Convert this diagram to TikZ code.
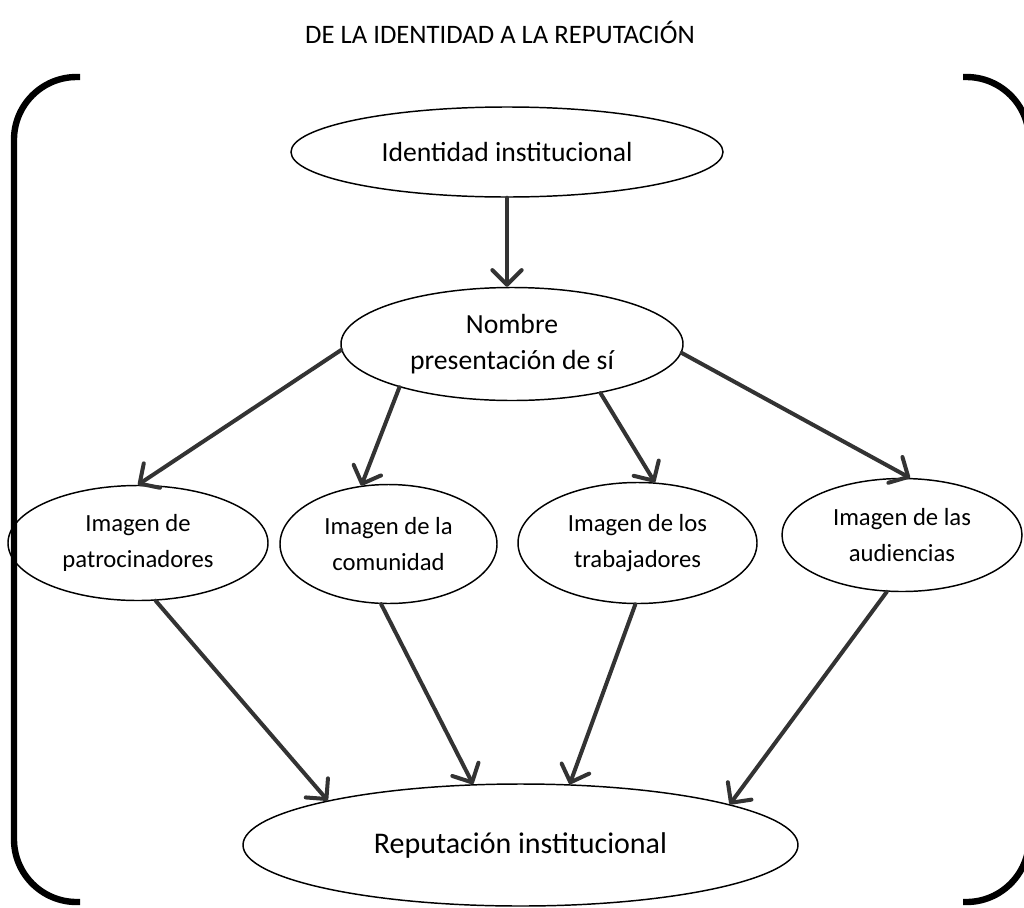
\documentclass[tikz,border=0pt]{standalone}
\usepackage{fontspec}
\setmainfont{Carlito}
\usetikzlibrary{shapes.geometric,arrows.meta}
\definecolor{arrgray}{HTML}{333333}
\newcommand{\fsTitle}{\fontsize{20}{24}\selectfont}
\newcommand{\fsMain}{\fontsize{20.75}{27}\selectfont}
\newcommand{\fsRep}{\fontsize{22.5}{27}\selectfont}
\newcommand{\fsSmall}{\fontsize{18.5}{27}\selectfont}
\begin{document}
\begin{tikzpicture}[x=0.75pt,y=-0.75pt,
  ell/.style={draw=black, line width=1.1pt, ellipse, inner sep=0pt, align=center},
  arr/.style={draw=arrgray, line width=3pt, line cap=round,
    -{Straight Barb[length=11pt,width=22pt,line width=3pt,round]}},
  brk/.style={draw=black, line width=4.8pt, rounded corners=47pt}]
\useasboundingbox (0,0) rectangle (1024,907);
\clip (0,0) rectangle (1024,907);

\node[font=\fsTitle] (title) at (500,32) {DE LA IDENTIDAD A LA REPUTACIÓN};

\draw[brk] (80,77) -- (14,77) -- (14,902) -- (80,902);
\draw[brk] (963,77) -- (1029,77) -- (1029,902) -- (963,902);

\node[ell, font=\fsMain, minimum width=324pt, minimum height=67.5pt] (id) at (507,152) {Identidad institucional};
\node[ell, font=\fsMain, minimum width=256.5pt, minimum height=84.75pt] (nom) at (512,344) {Nombre\\presentación de sí};
\node[ell, font=\fsSmall, minimum width=195pt, minimum height=86.25pt] (img1) at (138,543) {Imagen de\\patrocinadores};
\node[ell, font=\fsSmall, minimum width=162.75pt, minimum height=89.25pt] (img2) at (388.5,544) {Imagen de la\\comunidad};
\node[ell, font=\fsSmall, minimum width=179.25pt, minimum height=90.75pt] (img3) at (637.5,543) {Imagen de los\\trabajadores};
\node[ell, font=\fsSmall, minimum width=180pt, minimum height=84.75pt] (img4) at (902,535) {Imagen de las\\audiencias};
\node[ell, font=\fsRep, minimum width=416.25pt, minimum height=91.5pt] (rep) at (520.5,845) {Reputación institucional};

\draw[arr] (id.south) -- (id.south |- nom.north);

\draw[arr] (nom.182) -- (img1.north);
\draw[arr] (nom.201.6) -- (img2.115);
\draw[arr] (nom.331) -- (img3.74);
\draw[arr] (nom.357) -- (img4.82);

\draw[arr] (img1.287) -- (rep.167.2);
\draw[arr] (img2.263) -- (rep.128.4);
\draw[arr] (img3.268) -- (rep.51.6);
\draw[arr] (img4.255) -- (rep.11.7);
\end{tikzpicture}
\end{document}
